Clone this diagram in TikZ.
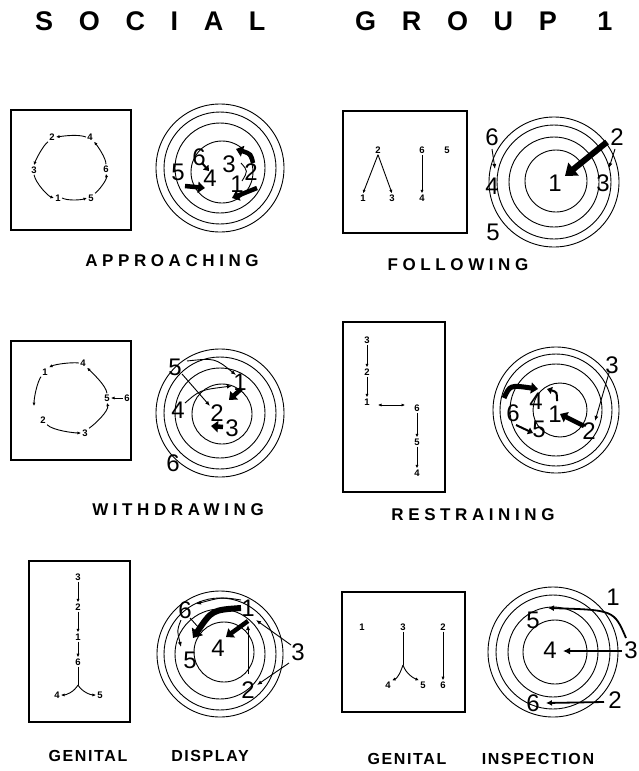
\documentclass[tikz,border=0pt]{standalone}
\usepackage{fontspec}
\setmainfont{Liberation Sans}
\newfontfamily\titlefont[LetterSpace=95]{Liberation Sans}
\newfontfamily\capfont[LetterSpace=27]{Liberation Sans}
\newfontfamily\capfontb[LetterSpace=10]{Liberation Sans}
\usetikzlibrary{arrows.meta}
\begin{document}
\begin{tikzpicture}[x=1pt,y=-1pt,
  panelbox/.style={draw,line width=1.1pt},
  ring/.style={draw,line width=0.9pt},
  bn/.style={font=\bfseries\fontsize{9.5}{9.5}\selectfont,inner sep=1.2pt},
  tn/.style={font=\fontsize{24}{24}\selectfont,inner sep=0pt},
  captext/.style={font=\capfont\bfseries\fontsize{17}{17}\selectfont,inner sep=0pt},
  captextb/.style={font=\capfontb\bfseries\fontsize{16}{16}\selectfont,inner sep=0pt},
  boxarr/.style={line width=0.9pt,-{Latex[length=3.5pt,width=3.2pt]}},
  thinarr/.style={line width=0.9pt,-{Latex[length=5pt,width=4pt]}},
  medarr/.style={line width=2pt,-{Triangle[length=5pt,width=7pt]}},
  fatarr/.style={line width=4.5pt,-{Triangle[length=7pt,width=11pt]}}]
\useasboundingbox[fill=white] (0,0) rectangle (639,771);

% title
\node[font=\titlefont\bfseries\fontsize{27}{27}\selectfont,anchor=west,inner sep=0pt] (tsocial) at (35,21) {SOCIAL};
\node[font=\titlefont\bfseries\fontsize{27}{27}\selectfont,anchor=west,inner sep=0pt] (tgroup) at (355,21) {GROUP};
\node[font=\bfseries\fontsize{27}{27}\selectfont,inner sep=0pt] (tone) at (605,21) {1};

% ================= panel 1: approaching
\draw[panelbox] (11,110) rectangle (131,230);
\node[bn] (a2) at (52,137) {2};
\node[bn] (a4) at (90,137) {4};
\node[bn] (a3) at (34,170) {3};
\node[bn] (a6) at (106,169) {6};
\node[bn] (a1) at (58,198) {1};
\node[bn] (a5) at (91,198) {5};
\draw[boxarr] (a4.west) .. controls +(-8,-3) and +(8,-1) .. (a2.east);
\draw[boxarr] (a2.south west) .. controls +(-5,4) and +(2,-6) .. (a3.north);
\draw[boxarr] (a3.south) .. controls +(2,9) and +(-6,-2) .. (a1.west);
\draw[boxarr] (a1.east) .. controls +(6,3) and +(-6,2) .. (a5.west);
\draw[boxarr] (a5.north east) .. controls +(4,-3) and +(1,6) .. (a6.south);
\draw[boxarr] (a6.north) .. controls +(0,-6) and +(4,5) .. (a4.south east);

\foreach \r in {64,56,45} \draw[ring] (220,168) circle[radius=\r];
\draw[ring] (222,172) circle[radius=31];
\node[tn] (A6) at (199,157) {6};
\node[tn] (A5) at (178,172) {5};
\node[tn] (A4) at (210,178) {4};
\node[tn] (A3) at (229,164) {3};
\node[tn] (A2) at (251,172) {2};
\node[tn] (A1) at (237,184) {1};
\draw[fatarr] (185,186) -- (205,188);
\draw[medarr] (202,163) -- (209,171);
\draw[fatarr] (253,163) .. controls (251,154) .. (236,149);
\draw[fatarr] (257,188) -- (232,198);
\draw[line width=0.9pt] (241,163) .. controls (248,171) .. (242,181);
\node[captext] (capA) at (172,261) {APPROACHING};

% ================= panel 2: following
\draw[panelbox] (343,111) rectangle (467,233);
\node[bn] (b2) at (378,150) {2};
\node[bn] (b6) at (422,150) {6};
\node[bn] (b5) at (447,150) {5};
\node[bn] (b1) at (363,198) {1};
\node[bn] (b3) at (392,198) {3};
\node[bn] (b4) at (422,198) {4};
\draw[boxarr] (b2.south) -- (b1.north);
\draw[boxarr] (b2.south) -- (b3.north);
\draw[boxarr] (b6.south) -- (b4.north);

\foreach \r in {65,57,45} \draw[ring] (554,182) circle[radius=\r];
\draw[ring] (556,181) circle[radius=31];
\node[tn] (B6) at (492,137) {6};
\node[tn] (B2) at (617,137) {2};
\node[tn] (B1) at (555,183) {1};
\node[tn] (B3) at (603,183) {3};
\node[tn] (B4) at (492,186) {4};
\node[tn] (B5) at (493,232) {5};
\draw[line width=6pt,-{Triangle[length=11pt,width=16pt]}] (607,142) -- (565,176);
\draw[thinarr] (615,149) -- (609,168);
\draw[thinarr] (492,149) -- (495,169);
\node[captext] (capB) at (458,265) {FOLLOWING};

% ================= panel 3: withdrawing
\draw[panelbox] (11,341) rectangle (131,460);
\node[bn] (c1) at (45,372) {1};
\node[bn] (c4) at (83,363) {4};
\node[bn] (c5) at (107,398) {5};
\node[bn] (c6) at (127,398) {6};
\node[bn] (c2) at (43,420) {2};
\node[bn] (c3) at (85,433) {3};
\draw[boxarr] (c4.west) .. controls +(-8,-1) and +(6,-3) .. (c1.north east);
\draw[boxarr] (c1.south west) .. controls +(-4,6) and +(0,-8) .. (34,406);
\draw[boxarr] (c2.south east) .. controls +(6,6) and +(-6,0) .. (c3.west);
\draw[boxarr] (c3.north east) .. controls +(6,-4) and +(2,8) .. (c5.south);
\draw[boxarr] (c5.north) .. controls +(-1,-8) and +(5,5) .. (c4.south east);
\draw[boxarr] (c6.west) -- (c5.east);

\foreach \r in {64,56,45} \draw[ring] (220,413) circle[radius=\r];
\draw[ring] (222,414) circle[radius=30];
\node[tn] (C5) at (175,367) {5};
\node[tn] (C1) at (240,382) {1};
\node[tn] (C4) at (178,410) {4};
\node[tn] (C2) at (217,413) {2};
\node[tn] (C3) at (232,428) {3};
\node[tn] (C6) at (173,463) {6};
\draw[thinarr] (187,361) .. controls (215,358) .. (236,375);
\draw[thinarr] (182,374) -- (210,406);
\draw[thinarr] (185,403) .. controls (200,390) .. (232,386);
\draw[fatarr] (241,389) -- (229,400);
\draw[fatarr] (223,427) -- (211,426);
\node[captext] (capC) at (178,510) {WITHDRAWING};

% ================= panel 4: restraining
\draw[panelbox] (343,322) rectangle (445,492);
\node[bn] (d3) at (367,340) {3};
\node[bn] (d2) at (367,372) {2};
\node[bn] (d1) at (367,402) {1};
\node[bn] (d6) at (417,408) {6};
\node[bn] (d5) at (417,442) {5};
\node[bn] (d4) at (417,473) {4};
\draw[boxarr] (d3.south) -- (d2.north);
\draw[boxarr] (d2.south) -- (d1.north);
\draw[boxarr,{Latex[length=3.5pt,width=3.2pt]}-{Latex[length=3.5pt,width=3.2pt]}] (378,405) -- (405,405);
\draw[boxarr] (d6.south) -- (d5.north);
\draw[boxarr] (d5.south) -- (d4.north);

\foreach \r in {63,56,46} \draw[ring] (556,410) circle[radius=\r];
\draw[ring] (560,410) circle[radius=27];
\node[tn] (D3) at (612,365) {3};
\node[tn] (D4) at (536,401) {4};
\node[tn] (D1) at (555,414) {1};
\node[tn] (D6) at (513,413) {6};
\node[tn] (D5) at (539,429) {5};
\node[tn] (D2) at (589,431) {2};
\draw[thinarr] (609,373) -- (595,421);
\draw[fatarr] (584,426) -- (560,414);
\draw[line width=5pt,-{Triangle[length=7pt,width=11pt]}] (504,398) .. controls (510,385) .. (538,389);
\draw[medarr] (557,401) .. controls (557,392) .. (547,389);
\draw[medarr] (516,425) -- (533,433);
\node[captext] (capD) at (473,515) {RESTRAINING};

% ================= panel 5: genital display
\draw[panelbox] (29,561) rectangle (130,722);
\node[bn] (e3) at (78,577) {3};
\node[bn] (e2) at (78,607) {2};
\node[bn] (e1) at (78,637) {1};
\node[bn] (e6) at (78,662) {6};
\node[bn] (e4) at (57,695) {4};
\node[bn] (e5) at (100,695) {5};
\coordinate (ej) at (78,685);
\draw[boxarr] (e3.south) -- (e2.north);
\draw[boxarr] (e2.south) -- (e1.north);
\draw[boxarr] (e1.south) -- (e6.north);
\draw[line width=0.9pt] (e6.south) -- (ej);
\draw[boxarr] (ej) .. controls +(-4,7) and +(5,0) .. (e4.east);
\draw[boxarr] (ej) .. controls +(4,7) and +(-5,0) .. (e5.west);

\foreach \r in {63,56,45} \draw[ring] (220,654) circle[radius=\r];
\draw[ring] (224,652) circle[radius=30];
\node[tn] (E6) at (185,610) {6};
\node[tn] (E1) at (248,608) {1};
\node[tn] (E3) at (298,652) {3};
\node[tn] (E4) at (218,648) {4};
\node[tn] (E5) at (190,660) {5};
\node[tn] (E2) at (248,690) {2};
\draw[thinarr] (241,600) .. controls (222,597) .. (196,604);
\draw[line width=6pt,-{Triangle[length=8pt,width=13pt]}] (241,608) .. controls (212,610) .. (193,638);
\draw[fatarr] (248,621) -- (226,637);
\draw[thinarr] (248,674) -- (248,625);
\draw[thinarr] (291,645) -- (256,620);
\draw[thinarr] (289,663) -- (257,685);
\draw[thinarr] (181,620) .. controls (177,630) .. (181,647);
\draw[line width=0.9pt] (190,618) -- (199,628);
\node[captextb] (capE1) at (88,756) {GENITAL};
\node[captextb] (capE2) at (210,756) {DISPLAY};

% ================= panel 6: genital inspection
\draw[panelbox] (342,592) rectangle (465,712);
\node[bn] (f1) at (362,627) {1};
\node[bn] (f3) at (403,627) {3};
\node[bn] (f2) at (443,627) {2};
\node[bn] (f4) at (388,685) {4};
\node[bn] (f5) at (423,685) {5};
\node[bn] (f6) at (443,685) {6};
\coordinate (fj) at (403,665);
\draw[line width=0.9pt] (f3.south) -- (fj);
\draw[boxarr] (fj) .. controls +(-3,9) and +(5,-2) .. (f4.north east);
\draw[boxarr] (fj) .. controls +(3,9) and +(-5,-2) .. (f5.north west);
\draw[boxarr] (f2.south) -- (f6.north);

\foreach \r in {65,57,45} \draw[ring] (553,652) circle[radius=\r];
\draw[ring] (555,652) circle[radius=32];
\node[tn] (F1) at (613,597) {1};
\node[tn] (F5) at (533,620) {5};
\node[tn] (F4) at (550,650) {4};
\node[tn] (F3) at (631,650) {3};
\node[tn] (F2) at (615,700) {2};
\node[tn] (F6) at (533,703) {6};
\draw[line width=1.8pt,-{Latex[length=6pt,width=6pt]}] (626,638) .. controls (614,610) .. (548,608);
\draw[line width=2.4pt,-{Latex[length=7pt,width=7pt]}] (622,651) -- (563,651);
\draw[line width=1.8pt,-{Latex[length=6pt,width=6pt]}] (604,702) -- (546,703);
\node[captextb] (capF1) at (407,759) {GENITAL};
\node[captextb] (capF2) at (538,759) {INSPECTION};
\end{tikzpicture}
\end{document}
